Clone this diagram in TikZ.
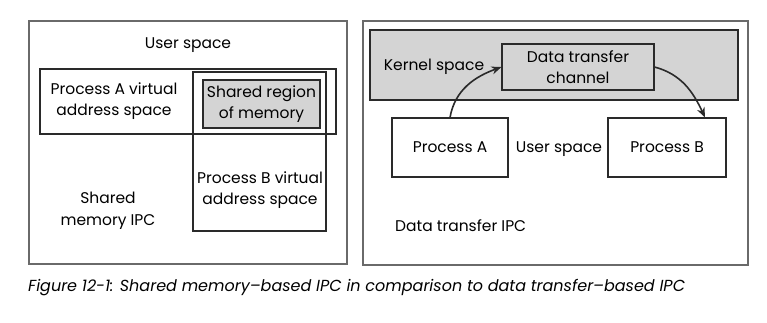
\documentclass[tikz,border=0pt]{standalone}
\usepackage{fontspec}
\setmainfont{Poppins}
\usetikzlibrary{arrows.meta}
\definecolor{panelline}{HTML}{6A6A6A}
\definecolor{boxline}{HTML}{2A2A2A}
\definecolor{shade}{HTML}{D4D4D4}
\begin{document}
\begin{tikzpicture}[x=1pt, y=-1pt,
    every node/.style={font=\fontsize{15.5}{21.5}\selectfont, align=center, inner sep=0pt},
    panel/.style={draw=panelline, line width=1.6pt},
    box/.style={draw=boxline, line width=1.1pt},
    link/.style={draw=boxline, line width=1.6pt, -{Stealth[length=10pt, width=8pt]}}]
\useasboundingbox (0,0) rectangle (767,322);
% shared memory IPC
\node[panel, minimum width=318pt, minimum height=243pt] (left) at (188,142.5) {};
\node (usr1) at (188,45) {User space};
\node[box, minimum width=296pt, minimum height=65pt] (vasA) at (188,101.5) {};
\node[box, line width=2pt, minimum width=133pt, minimum height=159pt] (vasB) at (259.5,151.5) {};
\node[box, fill=shade, minimum width=117pt, minimum height=48pt] (shm) at (261.5,104) {Shared region\\of memory};
\node (labA) at (114,101) {Process A virtual\\address space};
\node (labB) at (260,190) {Process B virtual\\address space};
\node (shmipc) at (108,211) {Shared\\memory IPC};
% data transfer IPC
\node[panel, minimum width=385pt, minimum height=244pt] (right) at (555.5,143) {};
\node[box, fill=shade, minimum width=368pt, minimum height=70pt] (kern) at (554,65) {};
\node (kernlab) at (434,67) {Kernel space};
\node[box, fill=shade, minimum width=152pt, minimum height=46pt] (chan) at (578,67) {Data transfer\\channel};
\node[box, fill=white, minimum width=116pt, minimum height=59pt] (pa) at (450,147.5) {Process A};
\node[box, fill=white, minimum width=118pt, minimum height=59pt] (pb) at (667,147.5) {Process B};
\node (usr2) at (559,149) {User space};
\node[anchor=west] (dtipc) at (395,226) {Data transfer IPC};
\draw[link] (pa.north) to[out=80, in=200] (chan.west);
\draw[link] (chan.east) to[out=-15, in=115] ([xshift=38pt]pb.north);
% caption
\node[anchor=west, font=\fontsize{16}{19}\selectfont\itshape] (cap) at (28,288)
    {Figure 12-1: Shared memory–based IPC in comparison to data transfer–based IPC};
\end{tikzpicture}
\end{document}
